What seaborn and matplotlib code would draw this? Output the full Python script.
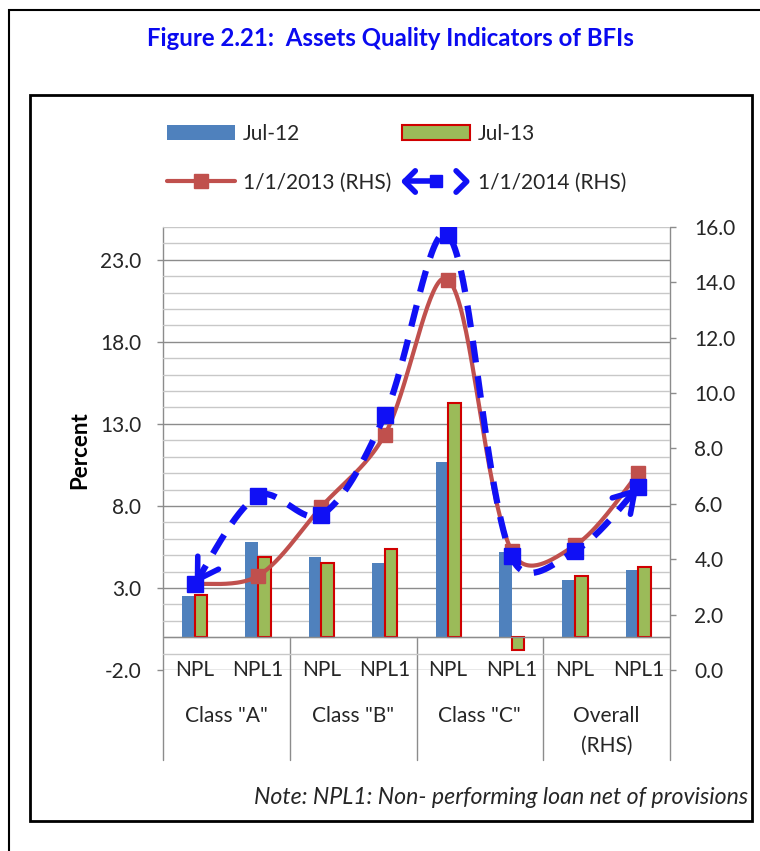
import matplotlib
matplotlib.use("Agg")
import matplotlib.pyplot as plt
from matplotlib.lines import Line2D
from matplotlib.patches import Patch, Rectangle
from matplotlib.legend_handler import HandlerBase
from matplotlib.ticker import MultipleLocator, FormatStrFormatter
import seaborn as sns
import numpy as np
import pandas as pd

sns.set_style("white")
plt.rcParams["font.family"] = ["Lato", "DejaVu Sans"]

# --- data ---
groups = ['Class "A"', 'Class "B"', 'Class "C"', "Overall\n(RHS)"]
indicators = ["NPL", "NPL1"]
jul12 = [2.5, 5.8, 4.9, 4.5, 10.7, 5.2, 3.5, 4.1]
jul13 = [2.6, 4.9, 4.5, 5.4, 14.3, -0.8, 3.7, 4.3]
rhs_2013 = [3.1, 3.4, 5.9, 8.5, 14.1, 4.3, 4.5, 7.1]
rhs_2014 = [3.1, 6.3, 5.6, 9.2, 15.7, 4.1, 4.3, 6.6]
left_ticks = [-2.0, 3.0, 8.0, 13.0, 18.0, 23.0]
right_ticks = [0.0, 2.0, 4.0, 6.0, 8.0, 10.0, 12.0, 14.0, 16.0]

BLUE_BAR = "#4F81BD"
GREEN_BAR = "#9BBB59"
RED_EDGE = "#D00000"
RED_LINE = "#C0504D"
BLUE_LINE = "#1010F5"
GRID_MAJ = "#8C8C8C"
GRID_MIN = "#C8C8C8"
TXT = "#262626"
FS = 15

categories = [f"{g} {i}" for g in groups for i in indicators]
df = pd.DataFrame({
    "category": categories * 2,
    "value": jul12 + jul13,
    "period": ["Jul-12"] * len(jul12) + ["Jul-13"] * len(jul13),
})


def smooth(ax, vals, n=40):
    # Excel-like smoothed line: cubic Bezier in screen space, tangents partly
    # scaled by neighbouring segment lengths
    x = np.arange(len(vals), dtype=float)
    P = ax.transData.transform(np.column_stack([x, vals]))
    d = np.r_[np.nan, np.hypot(*np.diff(P, axis=0).T), np.nan]  # d[i] = |P[i]-P[i-1]|
    t = np.linspace(0, 1, n)[:, None]
    out = []
    for i in range(len(P) - 1):
        p0, p1, p2, p3 = P[max(i - 1, 0)], P[i], P[i + 1], P[min(i + 2, len(P) - 1)]
        d01 = d[i] if i > 0 else d[i + 1]
        d12 = d[i + 1]
        d23 = d[i + 2] if i + 2 < len(P) else d12
        k1 = 0.5 / 6 + 0.5 * d12 / (d01 + d12) / 3
        k2 = 0.5 / 6 + 0.5 * d12 / (d12 + d23) / 3
        c1 = p1 + (p2 - p0) * k1
        c2 = p2 - (p3 - p1) * k2
        out.append((1 - t) ** 3 * p1 + 3 * (1 - t) ** 2 * t * c1
                   + 3 * (1 - t) * t ** 2 * c2 + t ** 3 * p2)
    pts = ax.transData.inverted().transform(np.vstack(out))
    return pts[:, 0], pts[:, 1]


class ArrowLineHandler(HandlerBase):
    def create_artists(self, legend, orig_handle, xdescent, ydescent,
                       width, height, fontsize, trans):
        y = height / 2 - ydescent
        x0, x1 = -xdescent + 2, width - xdescent - 2
        h = height * 0.7
        xm = (x0 + x1) / 2
        arts = [
            Line2D([x0, xm], [y, y], color=BLUE_LINE, lw=4),
            Line2D([x0 + h, x0, x0 + h], [y + h, y, y - h], color=BLUE_LINE, lw=4),
            Line2D([x1 - h, x1, x1 - h], [y + h, y, y - h], color=BLUE_LINE, lw=4),
            Line2D([xm], [y], marker="s", ms=9, color=BLUE_LINE, ls="none"),
        ]
        for a in arts:
            a.set_transform(trans)
        return arts


W, H = 760, 851
fig = plt.figure(figsize=(W / 100, H / 100), dpi=100)

# frames
fig.patches.append(Rectangle((9 / W, -0.2), 1.3, 1.2 - 10 / H, transform=fig.transFigure,
                             fill=False, ec="black", lw=1.5))
fig.patches.append(Rectangle((30 / W, 1 - 821 / H), 722 / W, 726 / H, transform=fig.transFigure,
                             fill=False, ec="black", lw=2))

ax = fig.add_axes([163 / W, 1 - 670 / H, 507 / W, 443 / H])
ax.set_axisbelow(True)

sns.barplot(data=df, x="category", y="value", hue="period", order=categories,
            palette=[BLUE_BAR, GREEN_BAR], width=0.4, gap=0, legend=False,
            saturation=1, ax=ax)
for p in ax.containers[0]:
    p.set_linewidth(0)
for p in ax.containers[1]:
    p.set_edgecolor(RED_EDGE)
    p.set_linewidth(1.5)

ax.set_xlim(-0.5, len(categories) - 0.5)
ax.set_ylim(-2, 25)
ax.set_yticks(left_ticks)
ax.yaxis.set_minor_locator(MultipleLocator(1))
ax.yaxis.set_major_formatter(FormatStrFormatter("%.1f"))
ax.grid(axis="y", which="major", color=GRID_MAJ, lw=1)
ax.grid(axis="y", which="minor", color=GRID_MIN, lw=1)
ax.axhline(0, color=GRID_MAJ, lw=1, zorder=1)
ax.tick_params(axis="y", which="major", length=4.5, width=1, color=GRID_MAJ,
               labelsize=FS, labelcolor=TXT, pad=11, left=True)
ax.tick_params(axis="y", which="minor", length=0)
ax.tick_params(axis="x", length=0, labelbottom=False)
ax.set_xlabel("")
ax.set_ylabel("")
for s in ax.spines.values():
    s.set_visible(False)

# category labels and separators below the axis
y_bottom = -7.5
for i, c in enumerate(categories):
    ax.text(i, -2, indicators[i % 2], ha="center", va="center", fontsize=FS, color=TXT)
for k, g in enumerate(groups):
    for j, line in enumerate(g.split("\n")):
        ax.text(2 * k + 0.5, -(716 - 637 + 30 * j) / 16.4, line, ha="center",
                va="center", fontsize=FS, color=TXT)
for xs in [-0.5, 7.5]:
    ax.plot([xs, xs], [25, y_bottom], color=GRID_MAJ, lw=1, clip_on=False, zorder=0.5)
for xs in [1.5, 3.5, 5.5]:
    ax.plot([xs, xs], [0, y_bottom], color=GRID_MAJ, lw=1, clip_on=False, zorder=0.5)

# right axis lines
ax2 = ax.twinx()
ax2.set_ylim(0, 16)
ax2.set_yticks(right_ticks)
ax2.yaxis.set_major_formatter(FormatStrFormatter("%.1f"))
ax2.tick_params(axis="y", length=4.5, width=1, color=GRID_MAJ, labelsize=FS,
                labelcolor=TXT, pad=13)
for s in ax2.spines.values():
    s.set_visible(False)
xpos = np.arange(len(categories))

sx, sy = smooth(ax2, rhs_2013)
ax2.plot(sx, sy, color=RED_LINE, lw=3, solid_capstyle="round", zorder=3)
ax2.plot(xpos, rhs_2013, ls="none", marker="s", ms=10, color=RED_LINE, zorder=3)

bx, by = smooth(ax2, rhs_2014)
ax2.plot(bx, by, color=BLUE_LINE, lw=4.5, dashes=(3.5, 2.2), zorder=4)
ax2.plot(xpos, rhs_2014, ls="none", marker="s", ms=12, color=BLUE_LINE, zorder=4)
arrow_kw = dict(arrowstyle="->,head_length=0.9,head_width=0.55", color=BLUE_LINE,
                lw=4, shrinkA=0, shrinkB=0, mutation_scale=16)
ax2.annotate("", xy=(bx[0], by[0]), xytext=(bx[6], by[6]), arrowprops=arrow_kw, zorder=4)
ax2.annotate("", xy=(bx[-1], by[-1]), xytext=(bx[-7], by[-7]), arrowprops=arrow_kw, zorder=4)

# legend
h_j12 = Patch(facecolor=BLUE_BAR, edgecolor="none")
h_j13 = Patch(facecolor=GREEN_BAR, edgecolor=RED_EDGE, lw=1.5)
h_r13 = Line2D([], [], color=RED_LINE, lw=3, marker="s", ms=10)
h_r14 = Line2D([], [], color=BLUE_LINE, lw=4)
fig.legend([h_j12, h_r13, h_j13, h_r14],
           ["Jul-12", "1/1/2013 (RHS)", "Jul-13", "1/1/2014 (RHS)"],
           handler_map={h_r14: ArrowLineHandler()},
           loc="upper left", bbox_to_anchor=(167 / W, 1 - 124 / H), ncol=2,
           frameon=False, fontsize=FS, handlelength=3.25, handleheight=0.75,
           handletextpad=0.4, columnspacing=0.5, labelspacing=1.38,
           borderpad=0, borderaxespad=0, labelcolor=TXT)

fig.text(390 / W, 1 - 38 / H, "Figure 2.21:  Assets Quality Indicators of BFIs",
         ha="center", va="center", fontsize=17.3, fontweight="bold", color="#0A0AF0")
fig.text(80 / W, 1 - 450 / H, "Percent", rotation=90, ha="center", va="center",
         fontsize=16, fontweight="bold", color="black")
fig.text(748 / W, 1 - 797 / H, "Note: NPL1: Non- performing loan net of provisions",
         ha="right", va="center", fontsize=16.7, style="italic", color=TXT)

fig.savefig("out.png", dpi=100)
